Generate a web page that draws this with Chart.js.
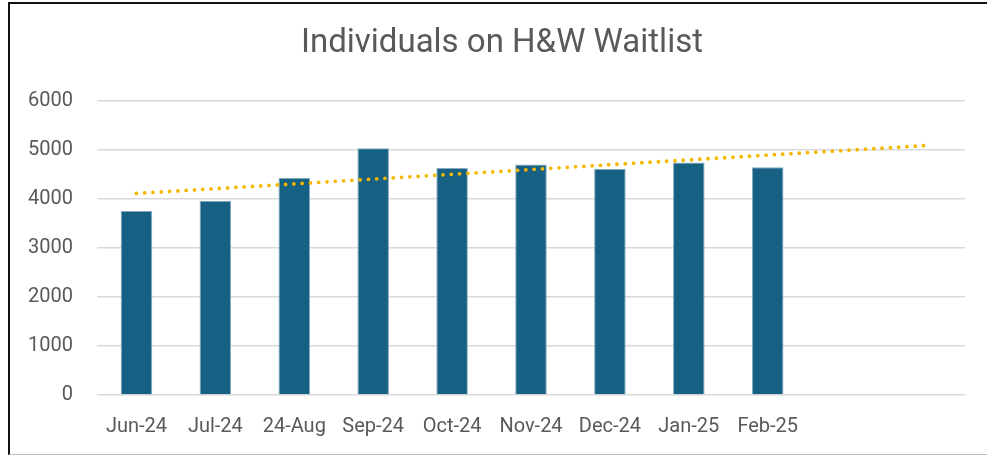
<!DOCTYPE html>
<html>
<head>
<title>Individuals on H&amp;W Waitlist</title>
<script src="https://cdn.jsdelivr.net/npm/chart.js"></script>
<style>
  html, body { margin: 0; padding: 0; background: #fff; overflow: hidden; }
  #wrap { position: relative; width: 987px; height: 456px; }
  #frame {
    position: absolute; left: 8px; top: 2px; width: 1000px; height: 450px;
    border-left: 2px solid #111; border-top: 2px solid #111; border-bottom: 1px solid #bdbdbd;
    pointer-events: none;
  }
</style>
</head>
<body>
<div id="wrap">
  <canvas id="myChart" width="987" height="456"></canvas>
  <div id="frame"></div>
</div>
<script>
// months shown, plus two empty slots the trendline runs into
const months = ['Jun-24', 'Jul-24', '24-Aug', 'Sep-24', 'Oct-24', 'Nov-24', 'Dec-24', 'Jan-25', 'Feb-25', '', ''];
const waitlist = [3750, 3960, 4430, 5030, 4625, 4700, 4610, 4740, 4640];
// linear trend: value at first slot and at last slot
const trendEnds = [4108, 5084];
const yTicks = [0, 1000, 2000, 3000, 4000, 5000, 6000];

const trendData = months.map(() => null);
trendData[0] = trendEnds[0];
trendData[months.length - 1] = trendEnds[1];

const textColor = '#595959';

// title in the original sits centred on the whole frame, not the plot
const titleShift = {
    id: 'titleShift',
    afterLayout(chart) {
        chart.titleBlock.left += 19;
    }
};

const ctx = document.getElementById('myChart').getContext('2d');
const myChart = new Chart(ctx, {
    type: 'bar',
    data: {
        labels: months,
        datasets: [{
            type: 'line',
            label: 'Linear (Individuals)',
            data: trendData,
            spanGaps: true,
            borderColor: '#f5b700',
            borderWidth: 3.8,
            borderDash: [0, 8.3],
            borderCapStyle: 'round',
            pointRadius: 0,
            fill: false,
            order: 0
        }, {
            label: 'Individuals',
            data: waitlist,
            backgroundColor: '#166083',
            borderColor: '#86abc2',
            borderWidth: 1,
            barPercentage: 0.4,
            categoryPercentage: 1,
            order: 1
        }]
    },
    plugins: [titleShift],
    options: {
        responsive: false,
        animation: false,
        layout: { padding: { left: 20, right: 22, top: 0, bottom: 5 } },
        plugins: {
            legend: { display: false },
            tooltip: { enabled: false },
            title: {
                display: true,
                text: 'Individuals on H&W Waitlist',
                color: textColor,
                font: { family: 'Roboto', size: 33, weight: 'normal' },
                padding: { top: 24, bottom: 37 }
            }
        },
        scales: {
            x: {
                grid: { display: false },
                border: { display: false },
                ticks: {
                    color: textColor,
                    font: { family: 'Roboto', size: 20 },
                    padding: 12,
                    maxRotation: 0,
                    autoSkip: false
                }
            },
            y: {
                min: 0,
                max: 6000,
                afterBuildTicks: (axis) => { axis.ticks = yTicks.map(v => ({ value: v })); },
                afterFit: (axis) => { axis.width = 77; },
                grid: { color: '#d9d9d9', lineWidth: 1.5, drawTicks: false },
                border: { display: false },
                ticks: {
                    color: textColor,
                    font: { family: 'Roboto', size: 20 },
                    padding: 24,
                    callback: (v) => String(v)
                }
            }
        }
    }
});
</script>
</body>
</html>
